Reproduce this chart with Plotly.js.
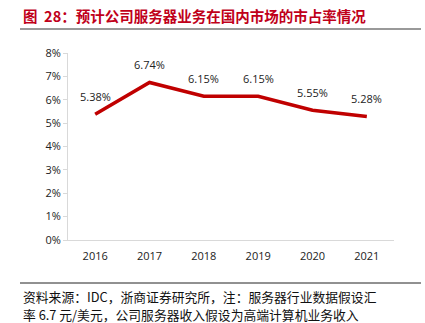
<!DOCTYPE html>
<html><head><meta charset="utf-8">
<script src="https://cdn.plot.ly/plotly-3.0.1.min.js"></script>
<style>html,body{margin:0;padding:0;background:#fff}#c{width:425px;height:323px}</style>
</head><body><div id="c"></div>
<script>
const years = ['2016','2017','2018','2019','2020','2021'];
const share = [5.38, 6.74, 6.15, 6.15, 5.55, 5.28];
const labels = ['5.38%','6.74%','6.15%','6.15%','5.55%','5.28%'];
const yTicks = [0,1,2,3,4,5,6,7,8];
const yTickText = ['0%','1%','2%','3%','4%','5%','6%','7%','8%'];

const W=425,H=323,L=68,R=31,T=53,B=83;
const pw=W-L-R, ph=H-T-B;
const px=x=>(x-L)/pw, py=y=>(H-B-y)/ph;

const cjk='"Noto Sans CJK SC", "Noto Sans", sans-serif';
const lat='Open Sans, Liberation Sans, sans-serif';
const trace={x:years,y:share,type:'scatter',mode:'lines',
  line:{color:'#C00000',width:3.5},hoverinfo:'none'};
const dataAnn = years.map((yr,i)=>({x:i,y:share[i],xref:'x',yref:'y',text:labels[i],
  showarrow:false,yshift:18,font:{family:lat,size:11,color:'#222'}}));
const layout={
  width:W,height:H,margin:{l:L,r:R,t:T,b:B},
  paper_bgcolor:'#fff',plot_bgcolor:'#fff',showlegend:false,
  xaxis:{type:'category',range:[-0.5,5.5],showgrid:false,zeroline:false,
    showline:true,linecolor:'#d9d9d9',linewidth:1,ticks:'',
    tickfont:{family:lat,size:11,color:'#222'},ticklabelstandoff:6},
  yaxis:{range:[0,8],tickvals:yTicks,ticktext:yTickText,showgrid:false,zeroline:false,
    showline:true,linecolor:'#d9d9d9',linewidth:1,ticks:'outside',ticklen:4,tickcolor:'#d9d9d9',
    tickfont:{family:lat,size:11,color:'#222'}},
  shapes:[
    {type:'line',xref:'paper',yref:'paper',x0:px(20),x1:px(421),y0:py(29),y1:py(29),line:{color:'#999',width:2}},
    {type:'line',xref:'paper',yref:'paper',x0:px(20),x1:px(421),y0:py(283),y1:py(283),line:{color:'#222',width:1}}
  ],
  annotations:dataAnn.concat([
    {xref:'paper',yref:'paper',x:px(21),y:py(15),xanchor:'left',yanchor:'middle',showarrow:false,
     text:'<b>图  28：预计公司服务器业务在国内市场的市占率情况</b>',font:{family:cjk,size:14.5,color:'#C0001A'}},
    {xref:'paper',yref:'paper',x:px(21),y:py(296),xanchor:'left',yanchor:'middle',showarrow:false,
     text:'资料来源：IDC，浙商证券研究所，注：服务器行业数据假设汇',font:{family:cjk,size:12.8,color:'#111'}},
    {xref:'paper',yref:'paper',x:px(21),y:py(314),xanchor:'left',yanchor:'middle',showarrow:false,
     text:'率 6.7 元/美元，公司服务器收入假设为高端计算机业务收入',font:{family:cjk,size:12.8,color:'#111'}}
  ])
};
Plotly.newPlot('c',[trace],layout,{displayModeBar:false,staticPlot:true});
</script></body></html>
